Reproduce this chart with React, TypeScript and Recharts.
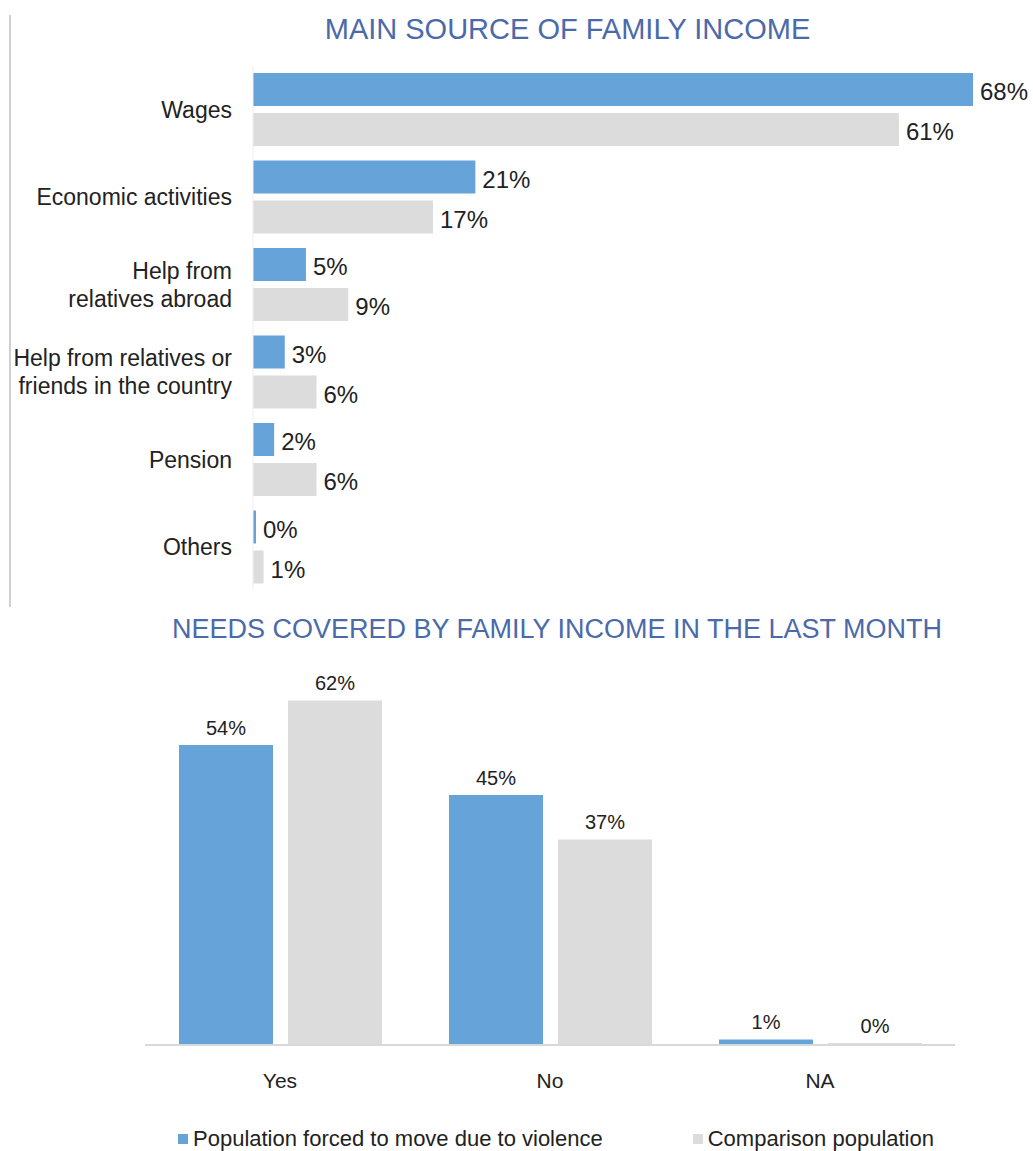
import * as React from "react"
import {
  BarChart,
  Bar,
  XAxis,
  YAxis,
  LabelList,
  Legend,
} from "recharts"

const BLUE = "#65a3d9"
const GRAY = "#dcdcdc"
const TITLE = "#4a6aaa"
const INK = "#222222"

// main source of family income
const sources = [
  "Wages",
  "Economic activities",
  "Help from\nrelatives abroad",
  "Help from relatives or\nfriends in the country",
  "Pension",
  "Others",
]
const sourceDisplaced = [68, 21, 5, 3, 2, 0]
const sourceComparison = [61, 17, 9, 6, 6, 1]

// needs covered in the last month
const answers = ["Yes", "No", "NA"]
const needsDisplaced = [54, 45, 1]
const needsComparison = [62, 37, 0]

const seriesNames = ["Population forced to move due to violence", "Comparison population"]

const sourceData = sources.map((name, i) => ({
  name,
  displaced: sourceDisplaced[i],
  comparison: sourceComparison[i],
}))

const needsData = answers.map((name, i) => ({
  name,
  displaced: needsDisplaced[i],
  comparison: needsComparison[i],
}))

const pct = (v: any) => `${v}%`

function SourceTick(props: any) {
  const { x, y, payload } = props
  const lines = String(payload.value).split("\n")
  const lh = 28
  const tx = x - 13
  const start = y - ((lines.length - 1) * lh) / 2
  return (
    <text x={tx} y={start} textAnchor="end" fill={INK} fontSize={23} dominantBaseline="central">
      {lines.map((l, i) => (
        <tspan key={i} x={tx} y={start + i * lh} dominantBaseline="central">
          {l}
        </tspan>
      ))}
    </text>
  )
}

function renderLegend(props: any) {
  const payload = [...(props.payload || [])].sort(
    (a: any, b: any) => seriesNames.indexOf(a.value) - seriesNames.indexOf(b.value)
  )
  return (
    <div style={{ display: "flex", justifyContent: "center", gap: 90, height: 24, alignItems: "center", paddingLeft: 12 }}>
      {payload.map((entry: any) => (
        <span key={entry.value} style={{ fontSize: 22, color: INK, display: "flex", alignItems: "center" }}>
          <span style={{ display: "inline-block", width: 10, height: 10, background: entry.color, marginRight: 5 }} />
          {entry.value}
        </span>
      ))}
    </div>
  )
}

export default function App() {
  return (
    <div
      style={{
        position: "absolute",
        left: 0,
        top: 0,
        width: 1033,
        height: 1151,
        background: "#fff",
        fontFamily: "'Liberation Sans', Arial, sans-serif",
        overflow: "hidden",
      }}
    >
      <div style={{ position: "absolute", left: 9, top: 15, width: 2, height: 592, background: "#d0d0d0" }} />

      <div style={{ position: "absolute", left: 0, top: 13, width: 1135, textAlign: "center", fontSize: 29, color: TITLE }}>
        MAIN SOURCE OF FAMILY INCOME
      </div>

      <div style={{ position: "absolute", left: 0, top: 0 }}>
        <BarChart
          width={1033}
          height={600}
          data={sourceData}
          layout="vertical"
          margin={{ top: 66, right: 60, left: 0, bottom: 9 }}
          barSize={33}
          barGap={7}
        >
          <XAxis type="number" domain={[0, 68]} hide />
          <YAxis
            type="category"
            dataKey="name"
            width={253}
            axisLine={{ stroke: "#eeeeee" }}
            tickLine={false}
            tick={<SourceTick />}
            interval={0}
          />
          <Bar dataKey="displaced" name={seriesNames[0]} fill={BLUE} minPointSize={3} isAnimationActive={false}>
            <LabelList dataKey="displaced" position="right" offset={7} formatter={pct} fill={INK} fontSize={24} dy={2} />
          </Bar>
          <Bar dataKey="comparison" name={seriesNames[1]} fill={GRAY} isAnimationActive={false}>
            <LabelList dataKey="comparison" position="right" offset={7} formatter={pct} fill={INK} fontSize={24} dy={2} />
          </Bar>
        </BarChart>
      </div>

      <div style={{ position: "absolute", left: 0, top: 614, width: 1114, textAlign: "center", fontSize: 27, color: TITLE }}>
        NEEDS COVERED BY FAMILY INCOME IN THE LAST MONTH
      </div>

      <div style={{ position: "absolute", left: 0, top: 600 }}>
        <BarChart
          width={1033}
          height={551}
          data={needsData}
          margin={{ top: 56, right: 78, left: 145, bottom: 0 }}
          barSize={94}
          barGap={15}
        >
          <XAxis
            dataKey="name"
            axisLine={{ stroke: "#d9d9d9", strokeWidth: 2 }}
            tickLine={false}
            tickMargin={22}
            height={82}
            tick={{ fill: INK, fontSize: 21 }}
          />
          <YAxis hide domain={[0, 70]} />
          <Legend verticalAlign="bottom" content={renderLegend} />
          <Bar dataKey="displaced" name={seriesNames[0]} fill={BLUE} isAnimationActive={false}>
            <LabelList dataKey="displaced" position="top" offset={10} formatter={pct} fill={INK} fontSize={20} />
          </Bar>
          <Bar dataKey="comparison" name={seriesNames[1]} fill={GRAY} minPointSize={2} isAnimationActive={false}>
            <LabelList dataKey="comparison" position="top" offset={10} formatter={pct} fill={INK} fontSize={20} />
          </Bar>
        </BarChart>
      </div>
    </div>
  )
}
